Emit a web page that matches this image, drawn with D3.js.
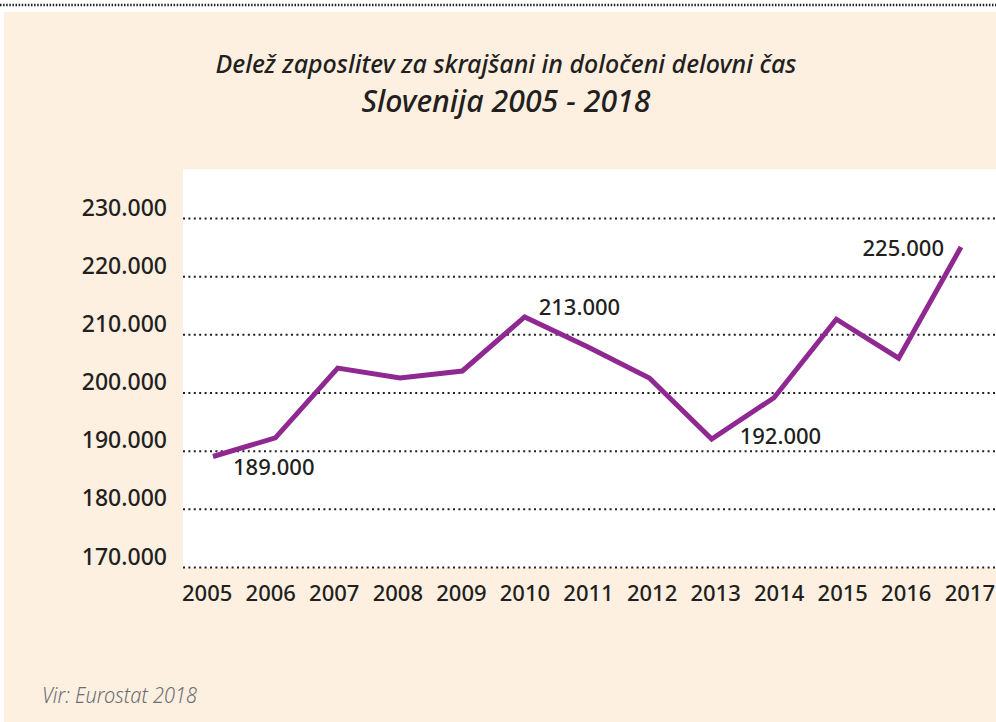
<!DOCTYPE html>
<html>
<head>
<meta charset="utf-8">
<script src="https://cdn.jsdelivr.net/npm/d3@7"></script>
<style>
  body { margin: 0; background: #fff; }
  svg { display: block; font-family: "Noto Sans", "Open Sans", sans-serif; }
</style>
</head>
<body>
<svg id="chart" width="996" height="722"></svg>
<script>
// data
var years = [2005, 2006, 2007, 2008, 2009, 2010, 2011, 2012, 2013, 2014, 2015, 2016, 2017];
var jobs = [189000, 192200, 204200, 202500, 203700, 213000, 207900, 202500, 192000, 199100, 212600, 205900, 225000];
var yTicks = [170000, 180000, 190000, 200000, 210000, 220000, 230000];
var labelledYears = [2005, 2010, 2013, 2017];

var title1 = "Delež zaposlitev za skrajšani in določeni delovni čas";
var title2 = "Slovenija 2005 - 2018";
var source = "Vir: Eurostat 2018";

var svg = d3.select("#chart"),
	W = +svg.attr("width"),
	H = +svg.attr("height"),
	plot = {left: 183, top: 169, right: W, bottom: 568};

var ink = "#231f20",
	purple = "#8f2890";

var fmt = d3.formatLocale({thousands: ".", grouping: [3], decimal: ",", currency: ["", ""]}).format(",");

// backgrounds
svg.append("rect")
	.attr("x", 4).attr("y", 12)
	.attr("width", W - 4).attr("height", H - 12)
	.attr("fill", "#fdf0e1");

svg.append("line")
	.attr("x1", 0).attr("x2", W)
	.attr("y1", 5).attr("y2", 5)
	.attr("stroke", ink)
	.attr("stroke-width", 2.5)
	.attr("stroke-dasharray", "1.5 1.6");

svg.append("rect")
	.attr("x", plot.left).attr("y", plot.top)
	.attr("width", plot.right - plot.left).attr("height", plot.bottom - plot.top)
	.attr("fill", "#fff");

// titles
svg.append("text")
	.attr("x", 506).attr("y", 73)
	.attr("text-anchor", "middle")
	.attr("font-style", "italic")
	.attr("font-weight", 500)
	.attr("font-size", 25)
	.attr("fill", ink)
	.attr("textLength", 581)
	.attr("lengthAdjust", "spacingAndGlyphs")
	.text(title1);

svg.append("text")
	.attr("x", 506).attr("y", 112)
	.attr("text-anchor", "middle")
	.attr("font-style", "italic")
	.attr("font-weight", 500)
	.attr("font-size", 31)
	.attr("fill", ink)
	.attr("textLength", 289)
	.attr("lengthAdjust", "spacingAndGlyphs")
	.text(title2);

// scales
var x = d3.scalePoint()
	.domain(years)
	.range([213, 961]);

var y = d3.scaleLinear()
	.domain([170000, 230000])
	.range([567, 218]);

// y axis + dotted gridlines
var yAxis = svg.append("g")
	.attr("class", "y-axis")
	.attr("transform", `translate(${plot.left},0)`)
	.call(d3.axisLeft(y)
		.tickValues(yTicks)
		.tickFormat(fmt)
		.tickSize(-(plot.right - plot.left))
		.tickPadding(16));

yAxis.select(".domain").remove();
yAxis.selectAll(".tick line")
	.attr("stroke", ink)
	.attr("stroke-width", 2)
	.attr("stroke-dasharray", "2 3.4");
yAxis.selectAll(".tick text")
	.attr("dy", "-3px")
	.attr("fill", ink)
	.attr("font-size", 23)
	.attr("font-weight", 500)
	.attr("font-family", "'Noto Sans', sans-serif");

// x labels flow like text, one after another
var xg = svg.append("g").attr("class", "x-axis");
var xl = xg.selectAll("text")
	.data(years)
	.join("text")
	.attr("y", 601)
	.attr("fill", ink)
	.attr("font-size", 22)
	.attr("font-weight", 500)
	.text(d => d);

var widths = [];
xl.each(function() { widths.push(this.getComputedTextLength()); });
var gap = (995 - 182 - d3.sum(widths)) / (years.length - 1);
var cursor = 182;
xl.attr("x", (d, i) => {
	var pos = cursor;
	cursor += widths[i] + gap;
	return pos;
});

// line
var line = d3.line()
	.x((d, i) => x(years[i]))
	.y(d => y(d));

svg.append("path")
	.datum(jobs)
	.attr("d", line)
	.attr("fill", "none")
	.attr("stroke", purple)
	.attr("stroke-width", 5)
	.attr("stroke-linejoin", "miter");

// value labels
var labelPlace = {
	2005: {dx: 20, dy: 19, anchor: "start"},
	2010: {dx: 14, dy: -2, anchor: "start"},
	2013: {dx: 28, dy: 5, anchor: "start"},
	2017: {dx: -17, dy: 9, anchor: "end"}
};

svg.selectAll("text.value")
	.data(labelledYears)
	.join("text")
	.attr("class", "value")
	.attr("x", d => x(d) + labelPlace[d].dx)
	.attr("y", d => y(jobs[years.indexOf(d)]) + labelPlace[d].dy)
	.attr("text-anchor", d => labelPlace[d].anchor)
	.attr("fill", ink)
	.attr("font-size", 22)
	.attr("font-weight", 500)
	.text(d => fmt(jobs[years.indexOf(d)]));

// source
svg.append("text")
	.attr("x", 42).attr("y", 703)
	.attr("fill", "#6d6e71")
	.attr("font-style", "italic")
	.attr("font-weight", 300)
	.attr("font-size", 21)
	.attr("textLength", 155)
	.attr("lengthAdjust", "spacingAndGlyphs")
	.text(source);
</script>
</body>
</html>
